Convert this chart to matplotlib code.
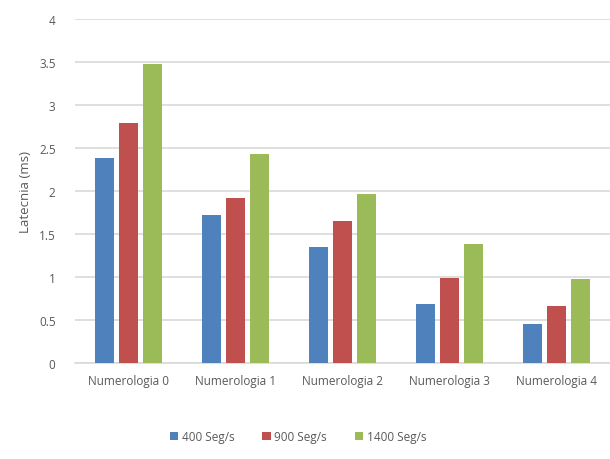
import matplotlib
matplotlib.use('Agg')
import matplotlib.pyplot as plt
import numpy as np

plt.rcParams['font.family'] = ['Open Sans', 'DejaVu Sans']

categorias = ['Numerologia 0', 'Numerologia 1', 'Numerologia 2', 'Numerologia 3', 'Numerologia 4']
series = ['400 Seg/s', '900 Seg/s', '1400 Seg/s']
lat_400 = [2.38, 1.72, 1.35, 0.69, 0.45]
lat_900 = [2.79, 1.92, 1.65, 0.99, 0.66]
lat_1400 = [3.48, 2.43, 1.96, 1.38, 0.97]

colores = ['#4F81BD', '#C0504D', '#9BBB59']
gris = '#595959'

fig = plt.figure(figsize=(6.1, 4.6), dpi=100)
ax = fig.add_axes([0.123, 0.209, 0.877, 0.748])

x = np.arange(len(categorias))
ancho = 0.175
paso = 0.225

for i, (vals, nombre) in enumerate(zip([lat_400, lat_900, lat_1400], series)):
    ax.bar(x + (i - 1) * paso, vals, ancho, color=colores[i], label=nombre, zorder=3)

ax.set_xlim(-0.5, len(categorias) - 0.5)
ax.set_ylim(0, 4)
ax.set_yticks(np.arange(0, 4.01, 0.5))
ax.set_yticklabels(['0', '0.5', '1', '1.5', '2', '2.5', '3', '3.5', '4'])
ax.yaxis.grid(True, color='#d9d9d9', linewidth=1.2, zorder=0)
ax.set_xticks(x)
ax.set_xticklabels(categorias)

for s in ['top', 'right', 'left']:
    ax.spines[s].set_visible(False)
ax.spines['bottom'].set_color('#d9d9d9')
ax.spines['bottom'].set_linewidth(1.2)

ax.tick_params(axis='both', length=0, colors=gris, labelsize=8.5)
ax.tick_params(axis='y', pad=14)
ax.tick_params(axis='x', pad=8)
ax.set_ylabel('Latecnia (ms)', color=gris, fontsize=9.5, labelpad=5)

ax.legend(loc='upper center', bbox_to_anchor=(0.417, -0.165), ncol=3, frameon=False,
          fontsize=8.5, labelcolor=gris, handlelength=0.7, handleheight=0.7,
          handletextpad=0.3, columnspacing=2.4)

fig.savefig('out.png', dpi=100)
